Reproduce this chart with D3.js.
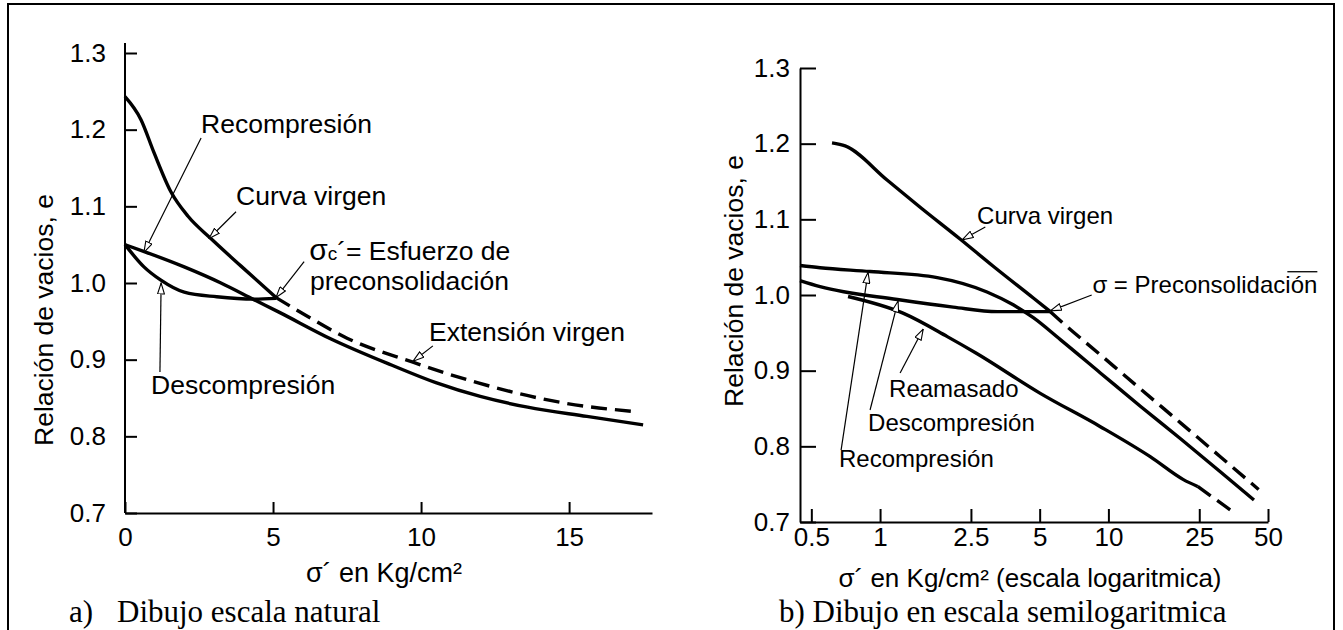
<!DOCTYPE html>
<html>
<head>
<meta charset="utf-8">
<script src="https://cdn.jsdelivr.net/npm/d3@7"></script>
<style>
  body { margin: 0; background: #fff; }
  svg { display: block; }
</style>
</head>
<body>
<div id="chart"></div>
<script>
// ---- datos: (a) escala natural, sigma' en kg/cm2 vs relacion de vacios e
let ticksE = [0.7, 0.8, 0.9, 1.0, 1.1, 1.2, 1.3]
let ticksA = [0, 5, 10, 15]
let ticksB = [0.5, 1, 2.5, 5, 10, 25, 50]

let virgenA = [[0, 1.243], [0.54, 1.213], [0.98, 1.170], [1.55, 1.119], [2.13, 1.087], [2.9, 1.058], [3.92, 1.022], [5.1, 0.981]]
let extensionA = [[5.1, 0.981], [6.1, 0.958], [7.5, 0.928], [9.7, 0.897], [11.9, 0.870], [14.9, 0.843], [17.3, 0.832]]
let recompresionA = [[0, 1.05], [0.65, 1.041], [2.0, 1.021], [3.24, 1.0], [4.37, 0.978], [5.2, 0.962], [6.96, 0.927], [9.0, 0.893], [10.5, 0.870], [12.0, 0.852], [13.6, 0.838], [15.6, 0.826], [17.5, 0.815]]
let descompresionA = [[0, 1.05], [0.64, 1.021], [1.2, 1.004], [2.0, 0.988], [3.1, 0.982], [4.37, 0.979], [5.1, 0.980]]

// ---- datos: (b) escala semilogaritmica
let virgenB = [[0.616, 1.201], [0.703, 1.197], [1.073, 1.152], [1.498, 1.116], [2.24, 1.074], [3.13, 1.038], [4.69, 0.996], [5.57, 0.978]]
let extensionB = [[5.57, 0.978], [6.16, 0.966], [9.22, 0.921], [13.8, 0.876], [20.7, 0.831], [31.0, 0.786], [45.5, 0.743]]
let recompresionB = [[0.446, 1.039], [0.546, 1.036], [0.904, 1.031], [1.78, 1.023], [2.94, 1.004], [3.83, 0.987], [4.69, 0.970], [6.16, 0.941], [9.22, 0.897], [13.8, 0.853], [20.7, 0.810], [31.0, 0.766], [43.4, 0.729]]
let descompresionB = [[0.446, 1.019], [0.546, 1.011], [1.19, 0.994], [2.09, 0.984], [3.26, 0.978], [5.57, 0.978]]
let reamasadoB = [[0.724, 0.998], [1.26, 0.976], [1.97, 0.945], [2.64, 0.923], [5.03, 0.870], [9.22, 0.826], [15.3, 0.786], [21.3, 0.756], [24.6, 0.747]]
let reamasadoExtB = [[24.6, 0.747], [34.2, 0.716]]

let width = 1343
let height = 630
let sans = "'Liberation Sans', Arial, sans-serif"
let serif = "'Liberation Serif', 'Times New Roman', serif"

let svg = d3.select("#chart")
    .append("svg")
    .attr("width", width)
    .attr("height", height)

// open arrow head
svg.append("defs")
    .append("marker")
    .attr("id", "flecha")
    .attr("viewBox", "0 0 12 8")
    .attr("refX", 11.5)
    .attr("refY", 4)
    .attr("markerWidth", 12)
    .attr("markerHeight", 8)
    .attr("markerUnits", "userSpaceOnUse")
    .attr("orient", "auto")
    .append("path")
    .attr("d", "M0.6,0.6 L11.5,4 L0.6,7.4 Z")
    .attr("fill", "#fff")
    .attr("stroke", "#000")
    .attr("stroke-width", 1.1)

// marco
svg.append("path")
    .attr("d", "M8,630 V4 H1334 V630")
    .attr("fill", "none")
    .attr("stroke", "#000")
    .attr("stroke-width", 2)

// scales
var xA = d3.scaleLinear().domain([0, 17.8]).range([125, 652])
var yA = d3.scaleLinear().domain([0.7, 1.3]).range([513, 53])
var xB = d3.scaleLog().domain([0.446, 50]).range([800, 1268])
var yB = d3.scaleLinear().domain([0.7, 1.3]).range([522, 68])

function styleAxis(g) {
    g.attr("font-family", sans).attr("font-size", 26)
    g.selectAll("line").attr("stroke", "#000").attr("stroke-width", 2)
    g.selectAll("path").attr("stroke", "#000").attr("stroke-width", 2)
    g.selectAll("text").attr("fill", "#000")
}

// ---- panel a) axes
let gyA = svg.append("g")
    .attr("transform", "translate(" + xA(0) + ",0)")
    .call(d3.axisLeft(yA).tickValues(ticksE).tickFormat(d3.format(".1f"))
        .tickSize(-12).tickPadding(19).tickSizeOuter(0))
gyA.select(".domain").remove()
styleAxis(gyA)
svg.append("line")
    .attr("x1", xA(0)).attr("x2", xA(0))
    .attr("y1", yA(0.7)).attr("y2", yA(1.3) - 10)
    .attr("stroke", "#000").attr("stroke-width", 2)

let gxA = svg.append("g")
    .attr("transform", "translate(0," + yA(0.7) + ")")
    .call(d3.axisBottom(xA).tickValues(ticksA).tickFormat(d3.format("d"))
        .tickSize(-11).tickPadding(15).tickSizeOuter(0))
styleAxis(gxA)

// ---- panel b) axes
let gyB = svg.append("g")
    .attr("transform", "translate(" + xB(0.446) + ",0)")
    .call(d3.axisLeft(yB).tickValues(ticksE).tickFormat(d3.format(".1f"))
        .tickSize(-16).tickPadding(10).tickSizeOuter(0))
styleAxis(gyB)

let gxB = svg.append("g")
    .attr("transform", "translate(0," + yB(0.7) + ")")
    .call(d3.axisBottom(xB).tickValues(ticksB).tickFormat(d => String(d))
        .tickSize(-13).tickPadding(6).tickSizeOuter(0))
styleAxis(gxB)

// ---- curves
let lineA = d3.line().x(d => xA(d[0])).y(d => yA(d[1])).curve(d3.curveMonotoneX)
let lineB = d3.line().x(d => xB(d[0])).y(d => yB(d[1])).curve(d3.curveMonotoneX)

function curve(gen, data, dashed) {
    svg.append("path")
        .datum(data)
        .attr("d", gen)
        .attr("fill", "none")
        .attr("stroke", "#000")
        .attr("stroke-width", 3.4)
        .attr("stroke-linecap", "butt")
        .attr("stroke-linejoin", "round")
        .attr("stroke-dasharray", dashed ? "16,8" : null)
}

curve(lineA, virgenA, false)
curve(lineA, extensionA, true)
curve(lineA, recompresionA, false)
curve(lineA, descompresionA, false)

curve(lineB, virgenB, false)
curve(lineB, extensionB, true)
curve(lineB, recompresionB, false)
curve(lineB, descompresionB, false)
curve(lineB, reamasadoB, false)
curve(lineB, reamasadoExtB, true)

// ---- annotations
function arrow(xs, ys, from, to) {
    svg.append("line")
        .attr("x1", xs(from[0])).attr("y1", ys(from[1]))
        .attr("x2", xs(to[0])).attr("y2", ys(to[1]))
        .attr("stroke", "#000")
        .attr("stroke-width", 1.2)
        .attr("marker-end", "url(#flecha)")
}

function label(xs, ys, pos, txt, size) {
    return svg.append("text")
        .attr("x", xs(pos[0]))
        .attr("y", ys(pos[1]))
        .attr("font-family", sans)
        .attr("font-size", size)
        .attr("fill", "#000")
        .text(txt)
}

// a)
label(xA, yA, [2.57, 1.196], "Recompresión", 26.5)
arrow(xA, yA, [2.57, 1.189], [0.64, 1.040])
label(xA, yA, [3.75, 1.102], "Curva virgen", 26.5)
arrow(xA, yA, [3.75, 1.093], [2.84, 1.058])
let sc = svg.append("text")
    .attr("x", xA(6.22)).attr("y", yA(1.030))
    .attr("font-family", sans).attr("font-size", 26.5).attr("fill", "#000")
sc.append("tspan").attr("font-size", 30).text("σ")
sc.append("tspan").attr("font-size", 19).text("c")
sc.append("tspan").text("´= Esfuerzo de")
label(xA, yA, [6.25, 0.991], "preconsolidación", 26.5)
arrow(xA, yA, [6.05, 1.028], [5.1, 0.981])
label(xA, yA, [10.27, 0.925], "Extensión virgen", 26.5)
arrow(xA, yA, [10.4, 0.918], [9.73, 0.898])
label(xA, yA, [0.88, 0.855], "Descompresión", 26.5)
arrow(xA, yA, [1.18, 0.884], [1.22, 1.0])

// b)
label(xB, yB, [2.66, 1.094], "Curva virgen", 24)
arrow(xB, yB, [2.89, 1.090], [2.29, 1.073])
let pre = label(xB, yB, [8.51, 1.003], "σ = Preconsolidación", 24)
let wPre = pre.node().getComputedTextLength()
svg.append("line")
    .attr("x1", xB(8.51) + wPre - 30).attr("x2", xB(8.51) + wPre)
    .attr("y1", yB(1.003) - 21).attr("y2", yB(1.003) - 21)
    .attr("stroke", "#000").attr("stroke-width", 1.3)
arrow(xB, yB, [8.45, 1.0], [5.57, 0.979])
label(xB, yB, [1.095, 0.865], "Reamasado", 24)
arrow(xB, yB, [1.224, 0.897], [1.545, 0.955])
label(xB, yB, [0.886, 0.820], "Descompresión", 24)
arrow(xB, yB, [0.904, 0.848], [1.199, 0.992])
label(xB, yB, [0.661, 0.773], "Recompresión", 24)
arrow(xB, yB, [0.675, 0.795], [0.886, 1.030])

// ---- axis titles
svg.append("text")
    .attr("transform", "translate(53,320) rotate(-90)")
    .attr("text-anchor", "middle")
    .attr("font-family", sans).attr("font-size", 26.5)
    .text("Relación de vacios, e")
svg.append("text")
    .attr("transform", "translate(743,281) rotate(-90)")
    .attr("text-anchor", "middle")
    .attr("font-family", sans).attr("font-size", 26.5)
    .text("Relación de vacios, e")

svg.append("text")
    .attr("x", 384).attr("y", 582)
    .attr("text-anchor", "middle")
    .attr("font-family", sans).attr("font-size", 27)
    .text("σ´ en Kg/cm²")
svg.append("text")
    .attr("x", 1030).attr("y", 587)
    .attr("text-anchor", "middle")
    .attr("font-family", sans).attr("font-size", 26)
    .text("σ´ en Kg/cm² (escala logaritmica)")

// ---- captions
svg.append("text")
    .attr("x", 69).attr("y", 622)
    .attr("font-family", serif).attr("font-size", 31)
    .text("a)")
svg.append("text")
    .attr("x", 117).attr("y", 622)
    .attr("font-family", serif).attr("font-size", 31)
    .text("Dibujo escala natural")
svg.append("text")
    .attr("x", 779).attr("y", 622)
    .attr("font-family", serif).attr("font-size", 31)
    .text("b) Dibujo en escala semilogaritmica")
</script>
</body>
</html>
